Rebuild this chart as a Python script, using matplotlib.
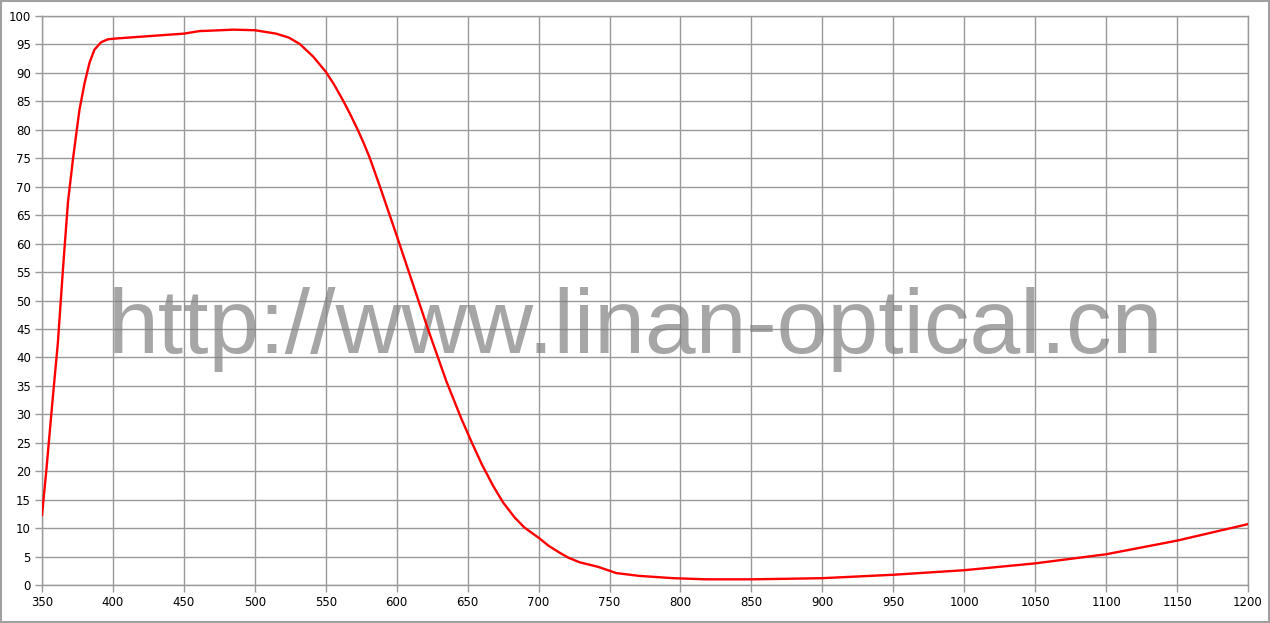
import matplotlib.pyplot as plt
from matplotlib.patches import Rectangle

# wavelength (nm) and transmission (%)
wavelength = [350, 353, 357.6, 361.2, 364.8, 368.3, 371.9, 374, 376.4, 380,
              383.5, 387, 391.7, 396.4, 400, 410.6, 433, 450, 461, 466.5,
              485, 500, 515, 524, 531.6, 541, 550, 556, 562.3, 567.5,
              572.9, 577, 581.1, 588.2, 594.8, 600, 611, 622, 635, 645.6,
              653, 660, 668, 675, 683, 690, 700.6, 707, 714.7, 721,
              728.8, 741.8, 750, 754.7, 771, 794.8, 818, 850, 877, 900,
              950, 1000, 1050, 1100, 1150, 1200]
transmission = [12.3, 20, 32.9, 42.6, 55.6, 67.3, 75, 79, 83.5, 88.2,
                91.8, 94.1, 95.4, 95.9, 96.0, 96.2, 96.6, 96.9, 97.35, 97.4,
                97.6, 97.5, 96.9, 96.2, 95.1, 92.9, 90.2, 87.9, 85.1, 82.6,
                79.8, 77.5, 75, 70, 65.2, 61.4, 53.2, 45, 35.8, 29.2,
                25.0, 21.2, 17.4, 14.5, 11.9, 10.1, 8.2, 6.9, 5.7, 4.8,
                4.0, 3.2, 2.5, 2.1, 1.6, 1.2, 1.0, 1.0, 1.1, 1.2,
                1.8, 2.6, 3.8, 5.4, 7.8, 10.7]

x_ticks = list(range(350, 1201, 50))
y_ticks = list(range(0, 101, 5))

fig = plt.figure(figsize=(12.7, 6.23), dpi=100)
ax = fig.add_axes([42 / 1270, 38 / 623, 1206 / 1270, 569 / 623])

ax.plot(wavelength, transmission, color="#ff0000", lw=1.7, zorder=4)

ax.set_xlim(350, 1200)
ax.set_ylim(0, 100)
ax.set_xticks(x_ticks)
ax.set_yticks(y_ticks)
ax.grid(True, color="#999999", lw=1.0, zorder=1)
ax.set_axisbelow(True)
ax.tick_params(axis="both", length=5, width=1.0, color="#999999",
               labelsize=8.5, pad=3)
for s in ax.spines.values():
    s.set_color("#999999")
    s.set_linewidth(1.0)

wm = ax.text(0.5, (623 - 353) / 623, "http://www.linan-optical.cn",
             transform=fig.transFigure, ha="center", va="baseline",
             fontsize=66, family="Liberation Sans",
             color="#808080", alpha=0.7, zorder=3)
# fit the watermark to roughly the width it has in the reference
fig.canvas.draw()
w = wm.get_window_extent().width
wm.set_fontsize(66 * 1055 / w)

# light grey frame round the whole picture
fig.patches.append(Rectangle((0.0005, 0.001), 0.999, 0.998, transform=fig.transFigure,
                             fill=False, edgecolor="#a0a0a0", lw=1.5))

fig.savefig("out.png", dpi=100)
